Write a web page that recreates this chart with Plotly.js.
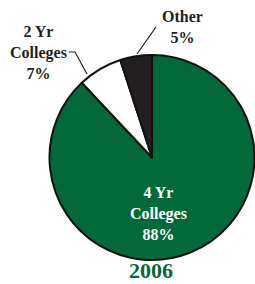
<!DOCTYPE html>
<html>
<head>
<meta charset="utf-8">
<script src="https://cdn.plot.ly/plotly-3.0.1.min.js"></script>
<style>html,body{margin:0;padding:0;background:#fff;}#chart{width:255px;height:284px;}</style>
</head>
<body>
<div id="chart"></div>
<script>
const categories = ['4 Yr Colleges', '2 Yr Colleges', 'Other'];
const labelLines = [['4 Yr', 'Colleges'], ['2 Yr', 'Colleges'], ['Other']];
const shares = [88, 7, 5];
const yearLabel = '2006';

const W = 255, H = 284;
const px = v => v / W;
const py = v => 1 - v / H;
const sliceColors = ['#03693a', '#ffffff', '#231f20'];
const fontFam = '"Liberation Serif", "Times New Roman", serif';

const labelText = i => labelLines[i].concat([shares[i] + '%']).join('<br>');

const trace = {
  type: 'pie',
  labels: categories,
  values: shares,
  sort: false,
  direction: 'clockwise',
  rotation: 0,
  textinfo: 'none',
  hoverinfo: 'label+percent',
  marker: { colors: sliceColors, line: { color: '#111111', width: 2 } },
  domain: { x: [px(49), px(255)], y: [py(260), py(55)] },
  showlegend: false
};

const labelPos = [
  { x: 158, y: 213, color: '#ffffff' },
  { x: 38, y: 53, color: '#231f20' },
  { x: 182, y: 27, color: '#231f20' }
];

const annotations = categories.map((c, i) => ({
  xref: 'paper', yref: 'paper',
  x: px(labelPos[i].x), y: py(labelPos[i].y),
  xanchor: 'center', yanchor: 'middle',
  text: '<b>' + labelText(i) + '</b>',
  showarrow: false,
  align: 'center',
  font: { family: fontFam, size: 16, color: labelPos[i].color }
}));
annotations.push({
  xref: 'paper', yref: 'paper',
  x: px(151), y: py(270.5),
  xanchor: 'center', yanchor: 'middle',
  borderpad: 0,
  text: '<b>' + yearLabel + '</b>',
  showarrow: false,
  font: { family: fontFam, size: 22, color: '#03693a' }
});

const pathP = pts => pts.map((p, i) => (i ? 'L ' : 'M ') + px(p[0]) + ' ' + py(p[1])).join(' ');
const shapes = [
  { type: 'path', xref: 'paper', yref: 'paper', path: pathP([[69, 52], [75, 52], [87, 74]]), line: { color: '#231f20', width: 1.2 } },
  { type: 'path', xref: 'paper', yref: 'paper', path: pathP([[156, 27], [137, 54]]), line: { color: '#231f20', width: 1.2 } }
];

const layout = {
  width: W, height: H,
  margin: { l: 0, r: 0, t: 0, b: 0 },
  paper_bgcolor: '#ffffff',
  plot_bgcolor: '#ffffff',
  annotations: annotations,
  shapes: shapes,
  showlegend: false
};

Plotly.newPlot('chart', [trace], layout, { displayModeBar: false, staticPlot: true });
</script>
</body>
</html>
